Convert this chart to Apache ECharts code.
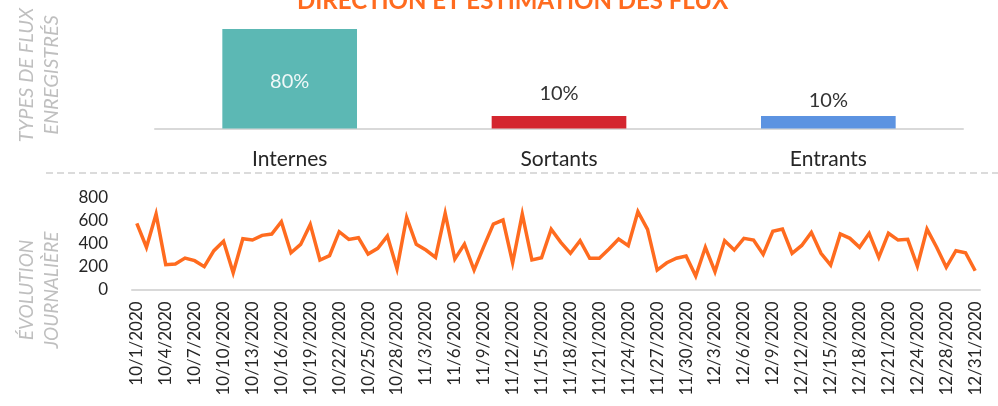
<!DOCTYPE html>
<html lang="fr">
<head>
    <meta charset="UTF-8">
    <title>Direction et estimation des flux</title>
    <script src="https://cdn.jsdelivr.net/npm/echarts@6/dist/echarts.min.js"></script>
    <style>
        html, body { margin: 0; padding: 0; background: #fff; }
    </style>
</head>
<body>
<div id="main" style="width: 998px;height: 406px"></div>
<script>
    // types de flux
    var fluxTypes = ['Internes', 'Sortants', 'Entrants'];
    var fluxShares = [80, 10, 10];
    var fluxColors = ['#5CB8B4', '#D4262F', '#5C93E1'];

    // evolution journaliere
    var days = ['10/1/2020','10/2/2020','10/3/2020','10/4/2020','10/5/2020','10/6/2020','10/7/2020','10/8/2020','10/9/2020','10/10/2020',
        '10/11/2020','10/12/2020','10/13/2020','10/14/2020','10/15/2020','10/16/2020','10/17/2020','10/18/2020','10/19/2020','10/20/2020',
        '10/21/2020','10/22/2020','10/23/2020','10/24/2020','10/25/2020','10/26/2020','10/27/2020','10/28/2020','10/29/2020','10/30/2020',
        '11/3/2020','11/4/2020','11/5/2020','11/6/2020','11/7/2020','11/8/2020','11/9/2020','11/10/2020','11/11/2020','11/12/2020',
        '11/13/2020','11/14/2020','11/15/2020','11/16/2020','11/17/2020','11/18/2020','11/19/2020','11/20/2020','11/21/2020','11/22/2020',
        '11/23/2020','11/24/2020','11/25/2020','11/26/2020','11/27/2020','11/28/2020','11/29/2020','11/30/2020','12/1/2020','12/2/2020',
        '12/3/2020','12/4/2020','12/5/2020','12/6/2020','12/7/2020','12/8/2020','12/9/2020','12/10/2020','12/11/2020','12/12/2020',
        '12/13/2020','12/14/2020','12/15/2020','12/16/2020','12/17/2020','12/18/2020','12/19/2020','12/20/2020','12/21/2020','12/22/2020',
        '12/23/2020','12/24/2020','12/26/2020','12/27/2020','12/28/2020','12/29/2020','12/30/2020','12/31/2020'];
    var dailyFlux = [576,367,657,215,221,273,250,198,337,420,
        145,442,430,471,483,590,319,392,567,256,
        294,503,436,451,308,358,465,180,628,393,
        343,279,663,264,395,168,372,570,605,232,
        657,256,276,524,410,314,424,271,271,352,
        439,381,678,524,168,232,271,291,116,367,
        154,424,343,445,430,305,506,526,314,383,
        497,314,212,483,445,367,489,279,489,430,
        436,203,526,367,192,337,319,162];
    var dailyTicks = [0, 200, 400, 600, 800];

    var font = 'Lato';
    var myChart = echarts.init(document.getElementById('main'));

    // petits decalages des etiquettes comme dans l'original
    var labelDist = [0, 13, 6];
    var barData = [];
    for (var i = 0; i < fluxShares.length; i++) {
        var item = {
            value: fluxShares[i],
            itemStyle: {color: fluxColors[i]}
        };
        if (i === 0) {
            item.label = {position: 'inside', offset: [0, 3], color: '#F0F8F8'};
        } else {
            item.label = {position: 'top', distance: labelDist[i], color: '#333'};
        }
        barData.push(item);
    }

    var option = {
        animation: false,
        backgroundColor: '#fff',
        textStyle: {fontFamily: font},
        title: {
            text: 'DIRECTION ET ESTIMATION DES FLUX',
            left: 297,
            top: -11,
            padding: 0,
            textStyle: {
                color: '#FF6B1F',
                fontFamily: font,
                fontWeight: 'bold',
                fontSize: 24
            }
        },
        graphic: [{
            type: 'text',
            x: 39,
            y: 75,
            rotation: Math.PI / 2,
            style: {
                text: 'TYPES DE FLUX\nENREGISTRÉS',
                fill: '#BFBFBF',
                font: 'italic 20px Lato',
                lineHeight: 25,
                align: 'center',
                verticalAlign: 'middle'
            }
        }, {
            type: 'text',
            x: 39,
            y: 290,
            rotation: Math.PI / 2,
            style: {
                text: 'ÉVOLUTION\nJOURNALIÈRE',
                fill: '#BFBFBF',
                font: 'italic 19px Lato',
                lineHeight: 25,
                align: 'center',
                verticalAlign: 'middle'
            }
        }, {
            type: 'line',
            shape: {x1: 46, y1: 173, x2: 998, y2: 173},
            style: {stroke: '#D0D0D0', lineWidth: 1.5, lineDash: [7, 4]}
        }],
        grid: [{
            left: 155,
            right: 35,
            top: 29,
            height: 99.5
        }, {
            left: 132,
            right: 18,
            top: 197.7,
            height: 91.6
        }],
        xAxis: [{
            type: 'category',
            gridIndex: 0,
            data: fluxTypes,
            axisLine: {lineStyle: {color: '#D9D9D9', width: 2}},
            axisTick: {show: false},
            axisLabel: {
                color: '#262626',
                fontFamily: font,
                fontSize: 21,
                margin: 20
            }
        }, {
            type: 'category',
            gridIndex: 1,
            data: days,
            axisLine: {lineStyle: {color: '#D9D9D9', width: 2}},
            axisTick: {show: false},
            axisLabel: {
                interval: 2,
                rotate: 90,
                color: '#262626',
                fontFamily: font,
                fontSize: 17,
                margin: 12
            }
        }],
        yAxis: [{
            type: 'value',
            gridIndex: 0,
            min: 0,
            max: 80,
            show: false
        }, {
            type: 'value',
            gridIndex: 1,
            min: dailyTicks[0],
            max: dailyTicks[dailyTicks.length - 1],
            interval: 200,
            axisLine: {show: false},
            axisTick: {show: false},
            splitLine: {show: false},
            axisLabel: {
                color: '#262626',
                fontFamily: font,
                fontSize: 17,
                margin: 24
            }
        }],
        series: [{
            name: 'Types de flux',
            type: 'bar',
            xAxisIndex: 0,
            yAxisIndex: 0,
            barWidth: '50%',
            data: barData,
            label: {
                show: true,
                fontFamily: font,
                fontSize: 20,
                formatter: '{c}%'
            }
        }, {
            name: 'Flux',
            type: 'line',
            xAxisIndex: 1,
            yAxisIndex: 1,
            data: dailyFlux,
            showSymbol: false,
            symbol: 'none',
            lineStyle: {color: '#FF6B1F', width: 3.5, join: 'miter'}
        }]
    };
    myChart.setOption(option);
</script>
</body>
</html>
